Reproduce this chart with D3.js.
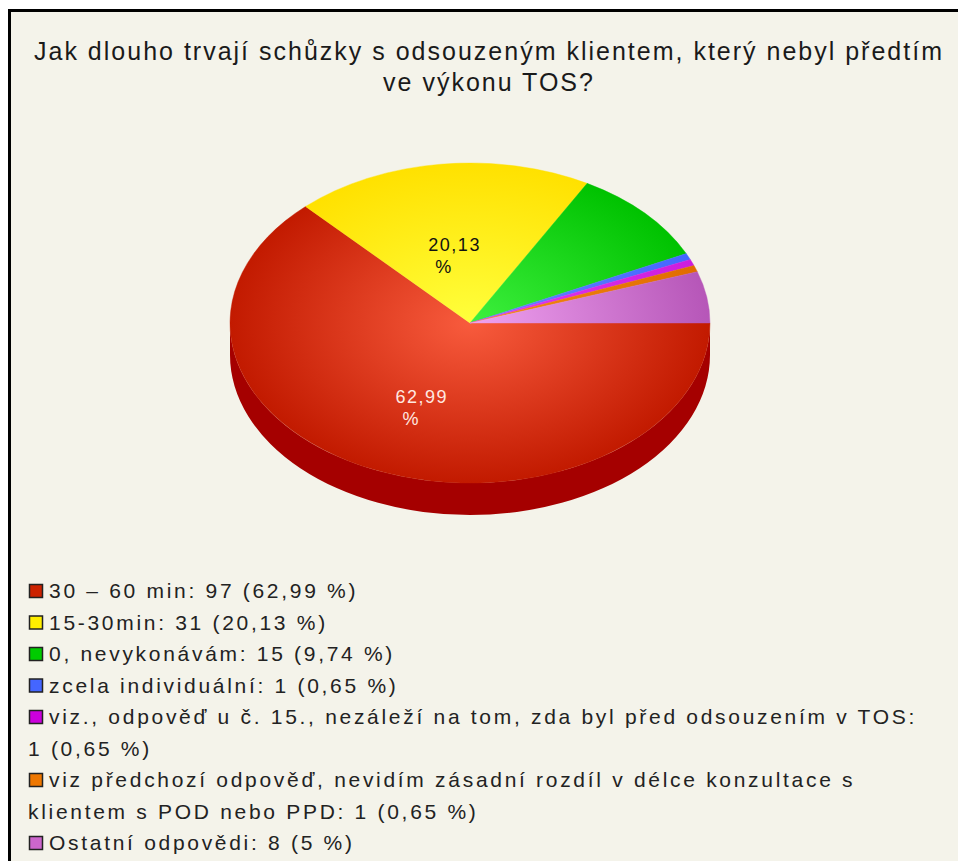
<!DOCTYPE html>
<html>
<head>
<meta charset="utf-8">
<script src="https://cdn.jsdelivr.net/npm/d3@7"></script>
<style>
  body { margin: 0; background: #ffffff; }
  text { font-family: "Liberation Sans", Arial, sans-serif; }
</style>
</head>
<body>
<div id="chart"></div>
<script>
// data
const titleLines = ["Jak dlouho trvají schůzky s odsouzeným klientem, který nebyl předtím", "ve výkonu TOS?"];
const categories = ["30 – 60 min", "15-30min", "0, nevykonávám", "zcela individuální",
  "viz.,  odpověď u č. 15., nezáleží na tom, zda byl před odsouzením v TOS",
  "viz předchozí odpověď, nevidím zásadní rozdíl v délce konzultace s klientem s POD nebo PPD",
  "Ostatní odpovědi"];
const counts = [97, 31, 15, 1, 1, 1, 8];
const percents = ["62,99", "20,13", "9,74", "0,65", "0,65", "0,65", "5"];
// legend text, already broken into lines the way the picture has it
const legendLines = [
  ["30 – 60 min: 97 (62,99 %)"],
  ["15-30min: 31 (20,13 %)"],
  ["0, nevykonávám: 15 (9,74 %)"],
  ["zcela individuální: 1 (0,65 %)"],
  ["viz.,  odpověď u č. 15., nezáleží na tom, zda byl před odsouzením v TOS:", "1 (0,65 %)"],
  ["viz předchozí odpověď, nevidím zásadní rozdíl v délce konzultace s", "klientem s POD nebo PPD: 1 (0,65 %)"],
  ["Ostatní odpovědi: 8 (5 %)"]
];
const topLight = ["#f85b3d", "#ffff3c", "#3ef03e", "#6688ff", "#e23af2", "#f58a10", "#f0a2f0"];
const topDark  = ["#c21a00", "#ffe100", "#00c200", "#4466ff", "#cc1ddd", "#e06c00", "#b656b8"];
const sideCol  = ["#a50000", "#c9ae00", "#009000", "#3348cc", "#99109f", "#b05000", "#8f3f90"];
const swatchCol = ["#cc2200", "#ffee00", "#00cc00", "#4466ff", "#cc00dd", "#ee7700", "#cc66cc"];

const W = 958, H = 861;
const cx = 470, cy = 323, rx = 240, ry = 160, depth = 32;

const svg = d3.select("#chart")
  .append("svg")
  .attr("width", W)
  .attr("height", H);

// frame
svg.append("rect")
  .attr("x", 9.5).attr("y", 10.5)
  .attr("width", W + 20).attr("height", H + 20)
  .attr("fill", "#f4f3ea")
  .attr("stroke", "#000")
  .attr("stroke-width", 3);

// title
svg.append("g").selectAll("text")
  .data(titleLines)
  .enter().append("text")
  .attr("x", 489)
  .attr("y", (d, i) => 60 + i * 31)
  .attr("text-anchor", "middle")
  .attr("font-size", 25)
  .attr("letter-spacing", 2)
  .attr("fill", "#1a1a1a")
  .text(d => d);

const pie = d3.pie().sort(null)
  .startAngle(Math.PI / 2)
  .endAngle(Math.PI / 2 + 2 * Math.PI);
const arcs = pie(counts);

const defs = svg.append("defs");
arcs.forEach((a, i) => {
  const g = defs.append("radialGradient")
    .attr("id", "grad" + i)
    .attr("gradientUnits", "userSpaceOnUse")
    .attr("cx", 0).attr("cy", 0).attr("r", rx);
  g.append("stop").attr("offset", "0%").attr("stop-color", topLight[i]);
  g.append("stop").attr("offset", "100%").attr("stop-color", topDark[i]);
});

// point on the rim, d3 angle convention (0 = 12 o'clock, clockwise)
const px = a => cx + rx * Math.sin(a);
const py = a => cy - ry * Math.cos(a);

// side walls: only the front half (3 o'clock -> 6 -> 9) is visible
const sides = svg.append("g");
arcs.forEach((a, i) => {
  [0, -2 * Math.PI].forEach(shift => {
    const a0 = Math.max(a.startAngle + shift, Math.PI / 2);
    const a1 = Math.min(a.endAngle + shift, 3 * Math.PI / 2);
    if (a1 <= a0) return;
    const d = `M${px(a0)},${py(a0)}` +
      `A${rx},${ry} 0 0 1 ${px(a1)},${py(a1)}` +
      `L${px(a1)},${py(a1) + depth}` +
      `A${rx},${ry} 0 0 0 ${px(a0)},${py(a0) + depth}Z`;
    sides.append("path").attr("d", d).attr("fill", sideCol[i]);
  });
});

// top face
const arc = d3.arc().innerRadius(0).outerRadius(rx);
const topFace = svg.append("g")
  .attr("transform", `translate(${cx},${cy}) scale(1,${ry / rx})`);
topFace.selectAll("path")
  .data(arcs)
  .enter().append("path")
  .attr("d", arc)
  .attr("fill", (d, i) => `url(#grad${i})`)
  .attr("stroke", (d, i) => `url(#grad${i})`)
  .attr("stroke-width", 0.5);

// slice labels for the big slices
const labelArc = d3.arc().innerRadius(rx * 0.5).outerRadius(rx * 0.5);
const labels = svg.append("g");
arcs.forEach((a, i) => {
  if (counts[i] / d3.sum(counts) < 0.15) return;
  const [lx, ly] = labelArc.centroid(a);
  const x = cx + lx - 27, y = cy + ly * ry / rx + 10;
  const t = labels.append("text")
    .attr("font-size", 18)
    .attr("letter-spacing", 1.5)
    .attr("fill", i === 0 ? "#ffe8e0" : "#111");
  t.append("tspan").attr("x", x).attr("y", y - 3).text(percents[i]);
  t.append("tspan").attr("x", x + 7).attr("y", y + 19).text("%");
});

// legend
const legend = svg.append("g");
let line = 0;
legendLines.forEach((lines, i) => {
  const base = 598 + line * 31.5;
  legend.append("rect")
    .attr("x", 29.5).attr("y", base - 13.5)
    .attr("width", 13).attr("height", 13)
    .attr("fill", swatchCol[i])
    .attr("stroke", "#222")
    .attr("stroke-width", 1.5);
  lines.forEach((s, j) => {
    legend.append("text")
      .attr("x", j === 0 ? 49 : 28)
      .attr("y", base + j * 31.5)
      .attr("font-size", 21)
      .attr("letter-spacing", 2.7)
      .attr("fill", "#222")
      .text(s);
  });
  line += lines.length;
});
</script>
</body>
</html>
